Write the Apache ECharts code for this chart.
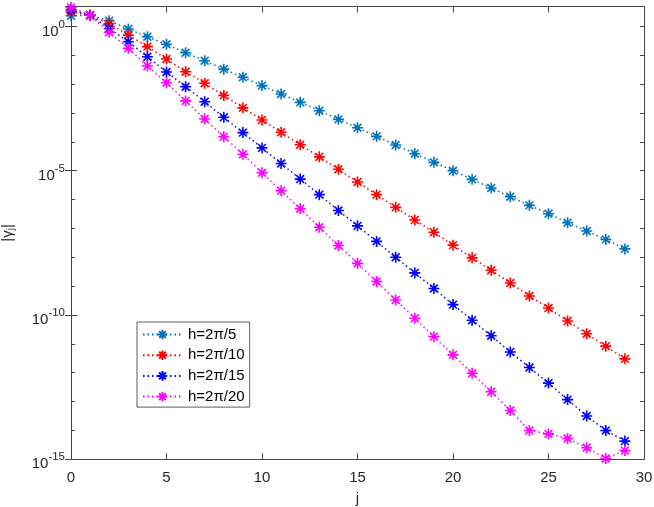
<!DOCTYPE html>
<html>
<head>
<meta charset="utf-8">
<script src="https://cdn.jsdelivr.net/npm/echarts@6/dist/echarts.min.js"></script>
<style>
  html, body { margin: 0; padding: 0; background: #fff; }
  #chart { width: 654px; height: 507px; }
</style>
</head>
<body>
<div id="chart"></div>
<script>
// j = 0..29
var jValues = [0,1,2,3,4,5,6,7,8,9,10,11,12,13,14,15,16,17,18,19,20,21,22,23,24,25,26,27,28,29]
var seriesNames = ['h=2π/5', 'h=2π/10', 'h=2π/15', 'h=2π/20']
var seriesColors = ['#0072BD', '#FF0000', '#0000FF', '#FF00FF']

// |gamma_j|
var gamma5 = [2.34e0,2.45e0,1.58e0,8.13e-1,4.37e-1,2.40e-1,1.23e-1,6.46e-2,3.31e-2,1.74e-2,
  8.91e-3,4.57e-3,2.34e-3,1.20e-3,6.03e-4,3.09e-4,1.55e-4,7.76e-5,3.89e-5,1.95e-5,
  1.00e-5,5.01e-6,2.51e-6,1.26e-6,6.31e-7,3.24e-7,1.58e-7,8.13e-8,4.17e-8,1.95e-8]
var gamma10 = [3.16e0,2.45e0,1.26e0,5.01e-1,2.00e-1,7.41e-2,2.69e-2,1.07e-2,4.07e-3,1.51e-3,
  5.75e-4,2.14e-4,7.94e-5,3.02e-5,1.12e-5,4.07e-6,1.48e-6,5.37e-7,1.95e-7,7.41e-8,
  2.63e-8,9.55e-9,3.55e-9,1.29e-9,4.57e-10,1.74e-10,6.17e-11,2.24e-11,8.32e-12,3.02e-12]
var gamma15 = [3.72e0,2.45e0,8.51e-1,2.95e-1,8.91e-2,2.63e-2,8.13e-3,2.45e-3,7.08e-4,2.09e-4,
  6.17e-5,1.78e-5,5.13e-6,1.48e-6,4.17e-7,1.23e-7,3.55e-8,1.00e-8,2.88e-9,8.32e-10,
  2.29e-10,6.61e-11,1.91e-11,5.25e-12,1.51e-12,4.37e-13,1.17e-13,3.16e-14,1.00e-14,4.27e-15]
var gamma20 = [4.57e0,2.45e0,6.31e-1,1.74e-1,4.27e-2,1.12e-2,2.63e-3,6.17e-4,1.51e-4,3.72e-5,
  8.51e-6,2.04e-6,4.79e-7,1.10e-7,2.57e-8,6.17e-9,1.45e-9,3.31e-10,7.76e-11,1.78e-11,
  4.17e-12,9.55e-13,2.19e-13,4.90e-14,1.00e-14,7.59e-15,5.25e-15,2.51e-15,1.07e-15,2.00e-15]
var allGamma = [gamma5, gamma10, gamma15, gamma20]

var yMin = 1e-15
var yMax = 4.9

var axisColor = '#444'
var font = 'Liberation Sans, Arial, Helvetica, sans-serif'

var star = 'path://M0,-10L0,10M-10,0L10,0M-7.07,-7.07L7.07,7.07M-7.07,7.07L7.07,-7.07'

var myChart = echarts.init(document.getElementById('chart'), null, { renderer: 'canvas' })

function yAxisBase(pos, labels, interval, tickLen) {
  return {
    type: 'log',
    logBase: 10,
    position: pos,
    min: yMin,
    max: yMax,
    interval: interval,
    axisLine: { show: true, lineStyle: { color: axisColor, width: 1 } },
    axisTick: { show: true, inside: true, length: tickLen, lineStyle: { color: axisColor } },
    splitLine: { show: false },
    axisLabel: labels ? {
      show: true,
      margin: 6,
      showMaxLabel: false,
      formatter: function (v) {
        var e = Math.round(Math.log10(v))
        if (Math.abs(Math.log10(v) - e) > 1e-6) return ''
        return '{b|10}{s|' + e + '}'
      },
      rich: {
        b: { fontSize: 15, fontFamily: font, color: '#262626', padding: [10, 0, 0, 0] },
        s: { fontSize: 11.5, fontFamily: font, color: '#262626', padding: [0, 0, 4, 0] }
      }
    } : { show: false }
  }
}

function xAxisBase(pos, labels) {
  return {
    type: 'value',
    position: pos,
    min: 0,
    max: 30,
    interval: 5,
    axisLine: { show: true, onZero: false, lineStyle: { color: axisColor, width: 1 } },
    axisTick: { show: true, inside: true, length: 6, lineStyle: { color: axisColor } },
    splitLine: { show: false },
    axisLabel: labels ? { show: true, margin: 11, fontSize: 15, fontFamily: font, color: '#262626' } : { show: false }
  }
}

var xMain = xAxisBase('bottom', true)
xMain.name = 'j'
xMain.nameLocation = 'middle'
xMain.nameGap = 32
xMain.nameTextStyle = { fontSize: 15, fontFamily: font, color: '#262626' }

var yMain = yAxisBase('left', true, 5, 6)
yMain.name = '|{g|γ}{s|j}|'
yMain.nameLocation = 'middle'
yMain.nameGap = 55
yMain.nameTextStyle = {
  fontSize: 15, fontFamily: font, color: '#262626',
  rich: {
    g: { fontSize: 15, fontFamily: font, color: '#262626' },
    s: { fontSize: 10, fontFamily: font, color: '#262626', padding: [6, 0, 0, 0] }
  }
}

var option = {
  animation: false,
  backgroundColor: '#fff',
  grid: { left: 71, right: 10, top: 6.5, bottom: 47.7, containLabel: false, outerBoundsMode: 'none' },
  legend: {
    orient: 'vertical',
    left: 137,
    top: 322,
    padding: [5, 5, 3, 5],
    itemWidth: 39,
    itemHeight: 12,
    itemGap: 5.7,
    backgroundColor: '#fff',
    borderColor: '#333',
    borderWidth: 0.8,
    borderRadius: 0,
    textStyle: { fontSize: 15, fontFamily: font, color: '#000', padding: [0, 0, 0, 1] },
    data: seriesNames
  },
  xAxis: [xMain, xAxisBase('top', false)],
  yAxis: [
    yMain,
    yAxisBase('right', false, 5, 6),
    yAxisBase('left', false, 1, 4),
    yAxisBase('right', false, 1, 4)
  ],
  series: allGamma.map(function (vals, k) {
    return {
      name: seriesNames[k],
      type: 'line',
      xAxisIndex: 0,
      yAxisIndex: 0,
      data: jValues.map(function (j, i) { return [j, vals[i]] }),
      symbol: star,
      symbolSize: 11,
      showAllSymbol: true,
      lineStyle: { color: seriesColors[k], width: 1.5, type: [1.5, 3] },
      itemStyle: { color: seriesColors[k], borderColor: seriesColors[k], borderWidth: 1.6 }
    }
  })
}

myChart.setOption(option)
</script>
</body>
</html>
